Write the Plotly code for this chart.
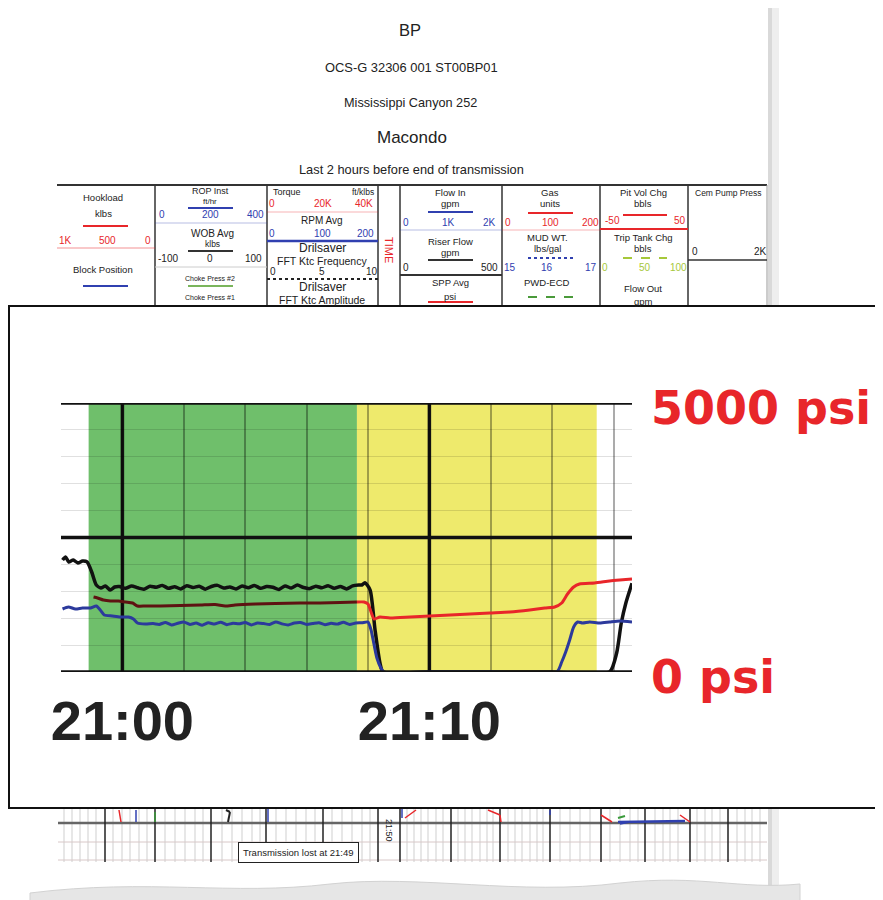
import plotly.graph_objects as go
import pandas as pd

# the page is shown with an 8px body margin, so the figure is sized/offset for that
OFF = 8
W, H = 883 - OFF, 900 - OFF
BASE = pd.Timestamp("2010-04-20 21:00:00")

# ---------------- data (minutes after 21:00, psi) ----------------
black_t = [-1.95, -1.85, -1.75, -1.6, -1.45, -1.3, -1.15, -1.0, -0.85, -0.7, -0.55, -0.4, -0.25,
           -0.1, 0.1, 0.3, 0.5, 0.7, 0.9, 1.1, 1.3, 1.5, 1.7, 1.9, 2.1, 2.3, 2.5, 2.7, 2.9,
           3.1, 3.3, 3.5, 3.7, 3.9, 4.1, 4.3, 4.5, 4.7, 4.9, 5.1, 5.3, 5.5, 5.7, 5.9, 6.1,
           6.3, 6.5, 6.7, 6.9, 7.1, 7.3, 7.5, 7.7, 7.8, 7.9, 8.07, 8.23, 8.39, 8.49,
           10.0, 12.0, 14.0, 15.87, 16.1, 16.25, 16.4, 16.6]
black_psi = [2082, 2138, 2045, 2082, 2026, 2063, 2045, 1859, 1617, 1562, 1599, 1524, 1580,
             1590, 1555, 1600, 1565, 1540, 1595, 1575, 1610, 1555, 1585, 1545, 1605, 1570,
             1595, 1540, 1590, 1610, 1560, 1580, 1545, 1600, 1565, 1610, 1555, 1590, 1575,
             1535, 1600, 1560, 1615, 1570, 1550, 1595, 1565, 1605, 1555, 1590, 1545, 1600,
             1615, 1617, 1660, 1524, 781, 167, 0,
             0, 0, 0, 0, 353, 911, 1283, 1650]

maroon_t = [-0.94, -0.81, -0.62, -0.39, -0.13, 0.1, 0.33, 0.49, 0.75, 1.24, 1.89, 2.54,
            3.02, 3.35, 3.67, 4.33, 4.98, 5.79, 6.44, 7.09, 7.64]
maroon_psi = [1394, 1376, 1338, 1320, 1320, 1301, 1283, 1227, 1227, 1227, 1236, 1246,
              1255, 1227, 1246, 1264, 1273, 1283, 1283, 1292, 1301]

red_t = [7.64, 7.87, 8.0, 8.1, 8.2, 8.39, 8.72, 9.37, 10.02, 10.67, 11.32, 11.97, 12.62,
         13.27, 13.76, 14.08, 14.31, 14.5, 14.7, 14.89, 15.38, 15.87, 16.2, 16.6]
red_psi = [1301, 1301, 1264, 1115, 985, 1022, 1004, 1022, 1041, 1060, 1078, 1097, 1115,
           1153, 1190, 1208, 1283, 1450, 1580, 1636, 1655, 1692, 1710, 1729]

blue_t = [-1.95, -1.76, -1.53, -1.3, -1.04, -0.85, -0.72, -0.59, -0.33, -0.07, 0.2, 0.36,
          0.49, 0.75, 1.0, 1.2, 1.4, 1.6, 1.8, 2.0, 2.2, 2.4, 2.6, 2.8, 3.0, 3.2, 3.4,
          3.6, 3.8, 4.0, 4.2, 4.4, 4.6, 4.8, 5.0, 5.2, 5.4, 5.6, 5.8, 6.0, 6.2, 6.4, 6.6,
          6.8, 7.0, 7.2, 7.4, 7.6, 7.8, 8.0, 8.1, 8.2, 8.29, 8.42, 8.52,
          10.0, 12.0, 14.15, 14.31, 14.44, 14.57, 14.7, 14.83, 14.99, 15.22, 15.55, 15.87,
          16.2, 16.6]
blue_psi = [1171, 1208, 1171, 1190, 1190, 1227, 1153, 1060, 1041, 1022, 1022, 985,
            911, 892, 900, 885, 920, 875, 905, 930, 885, 910, 870, 915, 890, 925, 880,
            905, 895, 920, 875, 910, 900, 885, 930, 895, 875, 910, 920, 885, 900, 915,
            880, 905, 890, 925, 885, 910, 915, 930, 781, 502, 260, 74, 0,
            0, 0, 0, 186, 372, 595, 837, 930, 911, 930, 911, 930,
            948, 930]

phase_start = [-1.1, 7.64]
phase_end = [7.64, 15.45]
phase_color = ["#6fbf6b", "#eeea6c"]

grid_minutes = [-2, 0, 2, 4, 6, 8, 10, 12, 14, 16]
major_minutes = [0, 10]
major_labels = {0: "21:00", 10: "21:10"}
grid_psi = [0, 500, 1000, 1500, 2000, 2500, 3000, 3500, 4000, 4500, 5000]
major_psi = [0, 2500, 5000]
psi_labels = {0: "0 psi", 5000: "5000 psi"}


def T(m):
    return BASE + pd.Timedelta(minutes=m)


def px(x):
    return (x - OFF) / W


def py(y):
    return 1 - (y - OFF) / H


fig = go.Figure()

for t, v, col, w in [(black_t, black_psi, "#111111", 3.5),
                     (maroon_t, maroon_psi, "#5e1212", 3),
                     (red_t, red_psi, "#e8262a", 3),
                     (blue_t, blue_psi, "#2c3a9c", 3)]:
    fig.add_trace(go.Scatter(x=[T(m) for m in t], y=v, mode="lines",
                             line=dict(color=col, width=w, shape="spline", smoothing=0.6),
                             hoverinfo="skip", showlegend=False))

shapes = []
annotations = []
FONT = "Liberation Sans Narrow, Liberation Sans, Arial"


def hline(x0, x1, y, color="#222", width=1, dash=None):
    d = dict(type="line", xref="paper", yref="paper", x0=px(x0), x1=px(x1),
             y0=py(y), y1=py(y), line=dict(color=color, width=width), layer="below")
    if dash:
        d["line"]["dash"] = dash
    shapes.append(d)


def vline(x, y0, y1, color="#222", width=1):
    shapes.append(dict(type="line", xref="paper", yref="paper", x0=px(x), x1=px(x),
                       y0=py(y0), y1=py(y1), line=dict(color=color, width=width), layer="below"))


def seg(x0, y0, x1, y1, color, width=1.5, dash=None):
    d = dict(type="line", xref="paper", yref="paper", x0=px(x0), x1=px(x1),
             y0=py(y0), y1=py(y1), line=dict(color=color, width=width), layer="below")
    if dash:
        d["line"]["dash"] = dash
    shapes.append(d)


def txt(s, x, y, size=9.5, color="#222", xanchor="center", angle=0):
    annotations.append(dict(text=s, x=px(x), y=py(y), xref="paper", yref="paper",
                            showarrow=False, xanchor=xanchor, yanchor="middle",
                            textangle=angle, font=dict(size=size, color=color, family=FONT)))

RED = "#e8262a"
BLUE = "#3040b0"
YG = "#a6c83a"

# right shadow of the paper
shapes.append(dict(type="rect", xref="paper", yref="paper", x0=px(768), x1=px(772),
                   y0=py(888), y1=1, fillcolor="#d9d9d9", line=dict(width=0), layer="below"))
shapes.append(dict(type="rect", xref="paper", yref="paper", x0=px(772), x1=px(779),
                   y0=py(888), y1=1, fillcolor="#eeeeee", line=dict(width=0), layer="below"))

# header
txt("BP", 410, 30, 16.5)
txt("OCS-G 32306 001 ST00BP01", 411, 68, 12.9)
txt("Mississippi Canyon 252", 410, 103, 12.7)
txt("Macondo", 412, 138, 17)
txt("Last 2 hours before end of transmission", 411, 169, 12.8)

# table frame
hline(57, 767, 185, "#333", 2)
for x in [155, 267, 378, 400, 502, 600, 688]:
    vline(x, 185, 306, "#333", 1.5)
vline(767, 185, 306, "#999", 1)

# column 1
txt("Hookload", 103, 197); txt("klbs", 103, 213)
seg(83, 226, 128, 226, RED, 2)
txt("1K", 65, 241, 10, RED); txt("500", 107, 241, 10, RED); txt("0", 148, 241, 10, RED)
hline(57, 155, 248, "rgba(232,38,42,0.5)", 1)
txt("Block Position", 103, 269)
seg(83, 286, 128, 286, BLUE, 2)

# column 2
txt("ROP Inst", 210, 191, 9); txt("ft/hr", 210, 201, 8)
seg(188, 208, 233, 208, BLUE, 2)
txt("0", 162, 215, 10, BLUE); txt("200", 210, 215, 10, BLUE); txt("400", 255, 215, 10, BLUE)
hline(155, 267, 223, "rgba(48,64,176,0.35)", 1)
txt("WOB Avg", 212, 234, 10); txt("klbs", 212, 244, 8.5)
seg(188, 251, 233, 251, "#333", 2)
txt("-100", 168, 258, 10); txt("0", 210, 258, 10); txt("100", 253, 258, 10)
hline(155, 267, 267, "#ccc", 1)
txt("Choke Press #2", 210, 278, 7)
seg(188, 286, 233, 286, "#7ab55c", 2)
txt("Choke Press #1", 210, 297, 7)

# column 3
txt("Torque", 271, 192, 9, xanchor="left"); txt("ft/klbs", 376, 192, 8.5, xanchor="right")
txt("0", 272, 204, 10, RED); txt("20K", 323, 204, 10, RED); txt("40K", 364, 204, 10, RED)
hline(267, 378, 212, "rgba(232,38,42,0.35)", 1)
txt("RPM Avg", 322, 220, 10)
txt("0", 272, 233, 10, BLUE); txt("100", 322, 233, 10, BLUE); txt("200", 365, 233, 10, BLUE)
hline(267, 378, 241, "#3040b0", 2.5)
txt("Drilsaver", 322, 248, 12)
txt("FFT Ktc Frequency", 322, 261, 10.5)
txt("0", 273, 272, 10); txt("5", 322, 272, 10); txt("10", 372, 272, 10)
hline(267, 378, 279, "#222", 2, "dot")
txt("Drilsaver", 322, 287, 12)
txt("FFT Ktc Amplitude", 322, 299.5, 10.5)

# time column
txt("TIME", 389, 250, 11, RED, angle=90)

# column 4
txt("Flow In", 450, 192); txt("gpm", 450, 203)
seg(428, 212, 473, 212, BLUE, 2)
txt("0", 406, 222, 10, BLUE); txt("1K", 448, 222, 10, BLUE); txt("2K", 489, 222, 10, BLUE)
hline(400, 502, 230, "rgba(48,64,176,0.35)", 1)
txt("Riser Flow", 450, 242); txt("gpm", 450, 252)
seg(428, 260, 473, 260, "#333", 2)
txt("0", 406, 268, 10); txt("500", 490, 268, 10)
hline(400, 502, 275, "#333", 2)
txt("SPP Avg", 450, 283); txt("psi", 450, 296)
seg(428, 302, 473, 302, RED, 2)

# column 5
txt("Gas", 550, 192); txt("units", 550, 203)
seg(528, 213, 573, 213, RED, 2)
txt("0", 508, 222, 10, RED); txt("100", 550, 222, 10, RED); txt("200", 590, 222, 10, RED)
hline(502, 600, 230, "rgba(232,38,42,0.35)", 1)
txt("MUD WT.", 547, 237); txt("lbs/gal", 547, 248)
seg(528, 258, 573, 258, BLUE, 2, "dot")
txt("15", 510, 268, 10, BLUE); txt("16", 547, 268, 10, BLUE); txt("17", 591, 268, 10, BLUE)
txt("PWD-ECD", 547, 282)
seg(528, 297, 573, 297, "#4a9a3a", 2, "dash")

# column 6
txt("Pit Vol Chg", 643, 192); txt("bbls", 643, 203)
seg(623, 215, 667, 215, RED, 2)
txt("-50", 612, 221, 10, RED); txt("50", 680, 221, 10, RED)
hline(600, 688, 229, RED, 2)
txt("Trip Tank Chg", 643, 237); txt("bbls", 643, 248)
seg(623, 258, 667, 258, YG, 2, "dash")
txt("0", 605, 268, 10, YG); txt("50", 645, 268, 10, YG); txt("100", 678, 268, 10, YG)
txt("Flow Out", 643, 288); txt("gpm", 643, 301)

# column 7
txt("Cem Pump Press", 728, 193, 8.5)
txt("0", 695, 251, 10); txt("2K", 760, 251, 10)
hline(688, 767, 260, "#333", 1.5)

# lower strip chart below the inset
for x in [64, 72, 80, 88, 96, 113, 122, 130, 139, 147, 165, 175, 185, 195, 203, 222, 232,
          242, 252, 260, 276, 286, 296, 306, 315, 332, 342, 352, 362, 370, 407, 414, 421,
          428, 436, 443, 458, 465, 472, 480, 487, 493, 508, 515, 522, 530, 537, 543, 560,
          570, 580, 590, 610, 620, 630, 638, 655, 663, 670, 678, 697, 705, 712, 720, 737,
          745, 752, 760]:
    vline(x, 808, 862, "#cfcfcf", 1)
hline(58, 767, 842, "#d8c8c8", 1)
hline(58, 767, 860, "#d8c8c8", 1)
hline(58, 767, 823, "#666", 2.5)
for x in [105, 155, 211, 266, 323, 378, 400, 451, 500, 550, 601, 645, 690, 728]:
    vline(x, 808, 862, "#222", 1.5)
seg(119, 810, 121, 822, RED, 1.5)
seg(136, 810, 136, 822, BLUE, 1.5)
seg(155, 812, 155, 822, "#3a9a3a", 1.5)
seg(226, 810, 230, 812, "#222", 2)
seg(230, 812, 228, 822, "#222", 2)
seg(268, 808, 268, 822, BLUE, 1.5)
seg(402, 808, 402, 818, BLUE, 1.5)
seg(405, 818, 416, 810, RED, 1.5)
seg(488, 810, 500, 815, RED, 1.5)
seg(500, 815, 501, 822, RED, 1.5)
seg(550, 810, 550, 815, BLUE, 1.5)
seg(601, 815, 612, 822, RED, 1.5)
seg(618, 818, 625, 816, "#3a9a3a", 2)
seg(618, 822, 685, 821, BLUE, 2.5)
seg(620, 824, 630, 822, BLUE, 1.5)
seg(680, 815, 690, 822, RED, 1.5)
txt("21:50", 389, 830, 9, "#222", angle=90)
annotations.append(dict(text="Transmission lost at 21:49", x=px(298), y=py(852),
                        xref="paper", yref="paper", showarrow=False,
                        xanchor="center", yanchor="middle",
                        font=dict(size=9.5, color="#222", family=FONT),
                        bordercolor="#222", borderwidth=1, borderpad=4, bgcolor="white"))

# torn bottom edge
shapes.append(dict(type="path", xref="paper", yref="paper",
                   path=("M {a},{b} C {c},{d} {e},{f} {g},{h} C {i},{j} {k},{l} {m},{n} "
                         "C {o},{p} {q},{r} {s},{t} L {u},{v} L {w},{v} Z").format(
                       a=px(30), b=py(893), c=px(150), d=py(878), e=px(230), f=py(896),
                       g=px(330), h=py(884), i=px(420), j=py(874), k=px(520), l=py(896),
                       m=px(620), n=py(883), o=px(700), p=py(874), q=px(740), r=py(890),
                       s=px(800), t=py(884), u=px(800), v=py(905), w=px(30)),
                   fillcolor="#e6e6e6", line=dict(color="#d2d2d2", width=1), layer="below"))

# inset box
shapes.append(dict(type="rect", xref="paper", yref="paper", x0=px(9), x1=px(900),
                   y0=py(808), y1=py(306), fillcolor="white",
                   line=dict(color="#111", width=2), layer="below"))

# phase bands
for s0, s1, c in zip(phase_start, phase_end, phase_color):
    shapes.append(dict(type="rect", xref="x", yref="y", x0=T(s0), x1=T(s1),
                       y0=0, y1=5000, fillcolor=c, line=dict(width=0), layer="below"))
# major lines
for v in major_psi:
    shapes.append(dict(type="line", xref="x domain", yref="y", x0=0, x1=1, y0=v, y1=v,
                       line=dict(color="#111", width=3.5), layer="above"))
for m in major_minutes:
    shapes.append(dict(type="line", xref="x", yref="y", x0=T(m), x1=T(m), y0=0, y1=5000,
                       line=dict(color="#111", width=3.5), layer="below"))

fig.update_layout(
    width=W, height=H, autosize=False,
    margin=dict(l=0, r=0, t=0, b=0),
    paper_bgcolor="white", plot_bgcolor="rgba(0,0,0,0)",
    shapes=shapes, annotations=annotations, showlegend=False,
    xaxis=dict(domain=[px(61), px(632)], range=[T(-2), T(16.6)], type="date",
               tickmode="array", tickvals=[T(m) for m in grid_minutes],
               ticktext=[major_labels.get(m, "") for m in grid_minutes],
               showgrid=True, gridcolor="rgba(0,0,0,0.33)", gridwidth=1.5,
               zeroline=False, showline=False, ticks="", ticklabelstandoff=11,
               tickfont=dict(family="Liberation Sans, Arial", size=56, color="#222",
                             weight="bold"),
               automargin=False, fixedrange=True),
    yaxis=dict(domain=[py(672), py(403)], range=[0, 5000], side="right",
               tickmode="array", tickvals=grid_psi,
               ticktext=[psi_labels.get(v, "") for v in grid_psi],
               showgrid=True, gridcolor="rgba(0,0,0,0.12)", gridwidth=1,
               zeroline=False, showline=False, ticks="", ticklabelstandoff=18,
               ticklabelshift=5,
               tickfont=dict(family="DejaVu Sans, Liberation Sans", size=46, color=RED,
                             weight="bold"),
               automargin=False, fixedrange=True),
)

fig.write_html("out.html")
